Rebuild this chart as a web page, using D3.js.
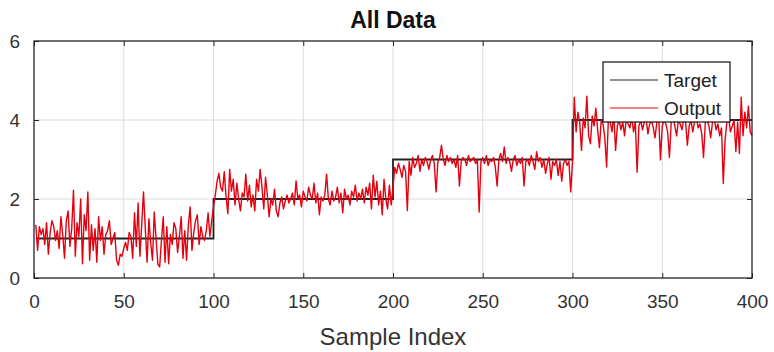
<!DOCTYPE html>
<html>
<head>
<meta charset="utf-8">
<script src="https://cdn.jsdelivr.net/npm/d3@7"></script>
<style>
  body { margin: 0; background: #fff; }
  text { font-family: "Liberation Sans", Arial, sans-serif; }
</style>
</head>
<body>
<div id="root"></div>
<script>
// step levels of the target, one per block of 100 samples
const targetLevels = [1, 2, 3, 4];
const blockSize = 100;

// network output, samples 1..100
const outputA = [
  1.35, 0.70, 1.30, 1.10, 1.25, 0.85, 1.40, 0.60, 1.15, 1.45,
  1.30, 0.95, 1.20, 0.75, 1.55, 1.10, 0.50, 1.45, 1.70, 0.80,
  1.25, 2.22, 0.55, 1.40, 1.05, 2.00, 0.36, 1.60, 1.20, 2.18,
  0.45, 1.35, 0.70, 1.25, 0.40, 1.55, 0.95, 1.30, 0.60, 1.10,
  1.20, 1.45, 0.85, 1.00, 1.15, 0.45, 0.32, 0.60, 0.55, 0.75,
  0.90, 0.70, 1.15, 1.05, 0.50, 1.65, 0.80, 1.90, 0.55, 1.35,
  2.18, 1.25, 0.40, 1.50, 0.90, 0.45, 1.67, 1.00, 0.35, 0.28,
  0.95, 1.55, 0.40, 1.30, 0.36, 1.10, 0.85, 1.40, 1.25, 0.65,
  1.05, 1.55, 0.50, 1.20, 0.45, 1.35, 1.80, 0.70, 1.15, 1.45,
  1.60, 0.85, 1.30, 1.05, 0.95, 1.20, 1.65, 1.05, 1.45, 1.80
];
// samples 101..200
const outputB = [
  2.10, 2.45, 2.65, 2.30, 2.20, 2.69, 2.05, 1.63, 2.75, 2.20,
  2.50, 1.85, 2.40, 2.00, 1.70, 2.15, 2.05, 2.63, 1.95, 2.35,
  1.80, 2.10, 1.70, 2.50, 2.20, 2.75, 2.30, 1.75, 2.55, 2.10,
  1.55, 2.00, 1.85, 2.25, 1.70, 1.55, 1.90, 2.05, 1.75, 1.95,
  2.10, 1.90, 2.00, 2.15, 1.85, 2.46, 2.00, 2.10, 1.80, 2.20,
  2.05, 1.95, 2.30, 2.10, 2.00, 2.40, 1.90, 2.15, 1.60, 2.05,
  1.95, 2.10, 2.63, 2.00, 1.85, 2.20, 1.95, 2.05, 2.30, 1.90,
  2.15, 1.65, 2.25, 2.00, 2.10, 1.85, 2.20, 2.05, 2.35, 1.95,
  2.15, 2.00, 2.25, 1.90, 2.30, 2.10, 2.40, 1.75, 2.60, 2.05,
  2.45, 1.85, 2.20, 1.60, 2.50, 2.00, 1.75, 2.35, 1.85, 2.30
];
// samples 201..300
const outputC = [
  2.80, 2.65, 2.90, 2.75, 2.55, 2.85, 2.70, 1.71, 2.95, 2.60,
  3.05, 2.80, 2.90, 3.10, 2.70, 3.00, 2.85, 3.05, 2.95, 2.75,
  3.00, 3.10, 2.90, 2.18, 2.95, 3.05, 3.36, 3.00, 2.85, 3.10,
  2.95, 3.05, 2.90, 3.00, 2.80, 3.10, 2.33, 2.95, 3.05, 3.00,
  2.85, 3.10, 2.95, 3.00, 3.05, 2.90, 3.00, 1.67, 2.95, 3.05,
  2.90, 3.10, 2.85, 3.00, 2.95, 3.05, 2.80, 2.33, 3.00, 3.15,
  2.95, 3.32, 2.90, 3.05, 2.95, 2.70, 3.00, 3.10, 2.85, 3.00,
  2.90, 3.05, 2.33, 2.95, 3.00, 2.85, 3.10, 2.95, 2.75, 3.20,
  2.95, 3.05, 2.80, 3.00, 2.65, 2.90, 3.05, 2.50, 2.95, 2.85,
  3.00, 2.60, 2.95, 2.45, 2.90, 3.00, 2.85, 2.95, 2.18, 2.95
];
// samples 301..400
const outputD = [
  4.58, 3.70, 4.20, 3.95, 3.23, 4.05, 3.80, 4.60, 3.60, 3.40,
  4.10, 3.85, 4.30, 3.75, 3.30, 4.00, 3.90, 3.55, 2.81, 4.05,
  3.95, 3.70, 4.15, 3.23, 3.85, 4.00, 3.75, 3.95, 3.60, 4.05,
  3.90, 3.80, 4.10, 3.70, 3.95, 2.68, 3.85, 4.00, 3.75, 3.95,
  4.05, 3.65, 3.90, 4.00, 3.80, 3.55, 3.95, 4.10, 2.99, 3.85,
  4.00, 3.90, 3.70, 3.05, 3.95, 4.05, 3.85, 3.60, 4.00, 3.90,
  3.75, 4.05, 3.95, 3.36, 3.85, 4.00, 3.70, 3.95, 4.10, 3.80,
  3.90, 3.65, 3.05, 3.95, 4.00, 3.85, 3.55, 3.95, 4.05, 3.75,
  3.90, 3.60, 3.80, 2.39, 3.50, 3.95, 4.05, 3.70, 3.85, 4.00,
  3.20, 3.95, 3.15, 4.58, 3.60, 4.20, 3.80, 4.35, 3.70, 3.60
];

const xTicks = [0, 50, 100, 150, 200, 250, 300, 350, 400];
const yTicks = [0, 2, 4, 6];
const seriesNames = ["Target", "Output"];

const output = [...outputA, ...outputB, ...outputC, ...outputD]
  .map((v, i) => ({ x: i + 1, y: v }));
const target = output.map((d) => ({
  x: d.x,
  y: targetLevels[Math.min(targetLevels.length - 1, Math.floor((d.x - 1) / blockSize))]
}));

const W = 774, H = 352;
const margin = { top: 41, right: 22, bottom: 74, left: 34 };

const svg = d3.select("#root").append("svg")
  .attr("width", W).attr("height", H);

const x = d3.scaleLinear().domain([0, 400]).range([margin.left, W - margin.right]);
const y = d3.scaleLinear().domain([0, 6]).range([H - margin.bottom, margin.top]);

const axisColor = "#262626";
const tickLen = 5;

// grid
svg.append("g")
  .selectAll("line")
  .data(xTicks.slice(1, -1))
  .join("line")
  .attr("x1", (d) => x(d)).attr("x2", (d) => x(d))
  .attr("y1", y(0)).attr("y2", y(6))
  .attr("stroke", "#dcdcdc").attr("stroke-width", 1);
svg.append("g")
  .selectAll("line")
  .data(yTicks.slice(1, -1))
  .join("line")
  .attr("x1", x(0)).attr("x2", x(400))
  .attr("y1", (d) => y(d)).attr("y2", (d) => y(d))
  .attr("stroke", "#dcdcdc").attr("stroke-width", 1);

// data lines
const line = d3.line().x((d) => x(d.x)).y((d) => y(d.y));
const lineStep = d3.line().x((d) => x(d.x)).y((d) => y(d.y)).curve(d3.curveStepBefore);

svg.append("path").datum(target)
  .attr("fill", "none").attr("stroke", "#222").attr("stroke-width", 1.8)
  .attr("d", lineStep);
svg.append("path").datum(output)
  .attr("fill", "none").attr("stroke", "#e3000f").attr("stroke-width", 1.4)
  .attr("stroke-linejoin", "round")
  .attr("d", line);

// axes (MATLAB style: ticks inward, on all sides)
const fontSize = 19;
const axBottom = svg.append("g").attr("transform", `translate(0,${y(0)})`)
  .call(d3.axisBottom(x).tickValues(xTicks).tickSizeInner(-tickLen).tickSizeOuter(0).tickPadding(tickLen + 12));
const axTop = svg.append("g").attr("transform", `translate(0,${y(6)})`)
  .call(d3.axisTop(x).tickValues(xTicks).tickSizeInner(-tickLen).tickSizeOuter(0).tickFormat(""));
const axLeft = svg.append("g").attr("transform", `translate(${x(0)},0)`)
  .call(d3.axisLeft(y).tickValues(yTicks).tickFormat(d3.format("d"))
    .tickSizeInner(-tickLen).tickSizeOuter(0).tickPadding(tickLen + 9));
const axRight = svg.append("g").attr("transform", `translate(${x(400)},0)`)
  .call(d3.axisRight(y).tickValues(yTicks).tickSizeInner(-tickLen).tickSizeOuter(0).tickFormat(""));

[axBottom, axTop, axLeft, axRight].forEach((g) => {
  g.select(".domain").remove();
  g.selectAll(".tick line").attr("stroke", axisColor).attr("stroke-width", 1);
  g.selectAll(".tick text")
    .attr("fill", "#333")
    .style("font-size", fontSize + "px")
    .style("font-family", "'Liberation Sans', Arial, sans-serif");
});

// box
svg.append("rect")
  .attr("x", x(0)).attr("y", y(6))
  .attr("width", x(400) - x(0)).attr("height", y(0) - y(6))
  .attr("fill", "none").attr("stroke", axisColor).attr("stroke-width", 1.3);

// title and x label
svg.append("text")
  .attr("x", (x(0) + x(400)) / 2).attr("y", 28)
  .attr("text-anchor", "middle")
  .attr("font-weight", "bold").attr("font-size", 23)
  .attr("fill", "#111")
  .text("All Data");

svg.append("text")
  .attr("x", (x(0) + x(400)) / 2).attr("y", 345)
  .attr("text-anchor", "middle")
  .attr("font-size", 24).attr("fill", "#333")
  .text("Sample Index");

// legend
const legend = svg.append("g").attr("transform", "translate(603,62)");
legend.append("rect")
  .attr("width", 127).attr("height", 60)
  .attr("fill", "#fff").attr("stroke", "#111").attr("stroke-width", 1.2);
const legendColors = ["#222", "#e3000f"];
seriesNames.forEach((name, i) => {
  const ly = 18 + i * 28;
  legend.append("line")
    .attr("x1", 7).attr("x2", 55).attr("y1", ly).attr("y2", ly)
    .attr("stroke", legendColors[i]).attr("stroke-width", 1.2);
  legend.append("text")
    .attr("x", 61).attr("y", ly).attr("dy", "0.35em")
    .attr("font-size", fontSize).attr("fill", "#222")
    .text(name);
});
</script>
</body>
</html>
